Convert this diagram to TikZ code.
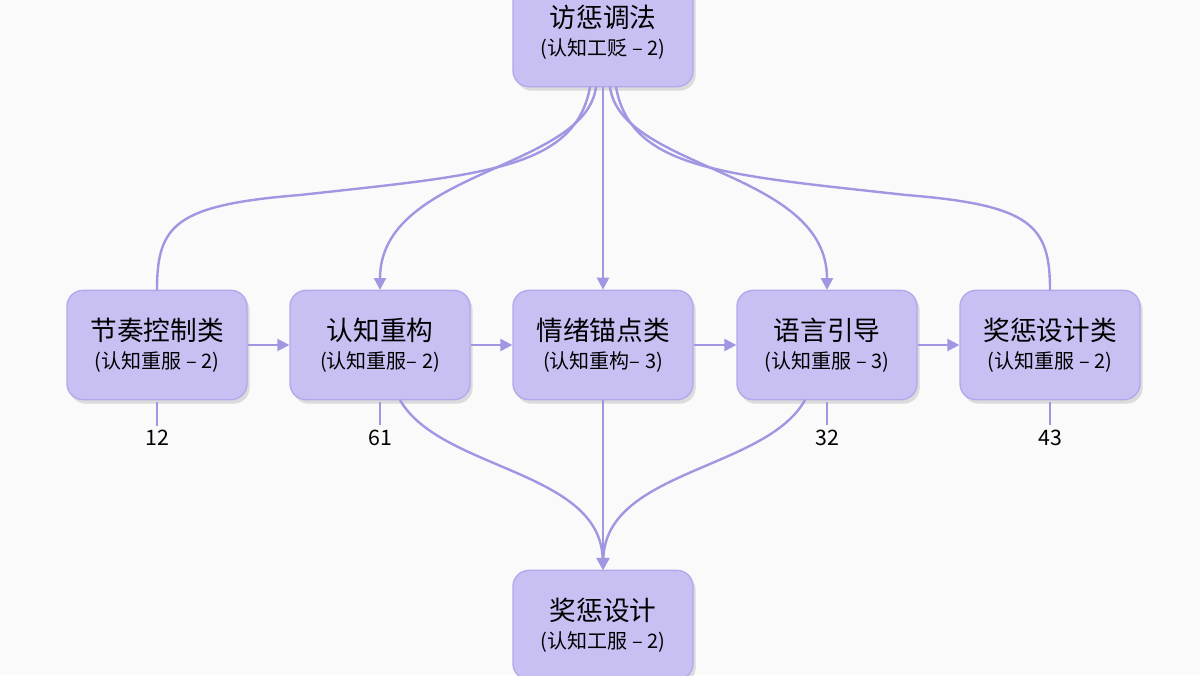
\documentclass[tikz,border=0pt]{standalone}
\usepackage{fontspec}
\setmainfont{Noto Sans CJK SC}[BoldFont={Noto Sans CJK SC Bold}]
\usetikzlibrary{shadows,arrows.meta}
\definecolor{bx}{HTML}{C8BFF3}
\definecolor{bd}{HTML}{B3A8EC}
\definecolor{ln}{HTML}{A097E2}
\newcommand\subtx{\fontsize{15}{18}\selectfont}
\begin{document}
\begin{tikzpicture}[x=0.75pt,y=-0.75pt,
 box/.style={draw=bd,line width=1pt,fill=bx,rounded corners=12pt,minimum width=135pt,minimum height=82pt,align=center,font=\fontsize{20}{24}\selectfont,drop shadow={shadow xshift=2pt,shadow yshift=-3pt,opacity=0.25}},
 ed/.style={draw=ln,line width=1.8pt},
 ar/.style={ed,-{Triangle[length=9pt,width=9pt]}},
 num/.style={font=\fontsize{16}{18}\selectfont}]
\fill[white!96!gray] (0,0) rectangle (1200,675);
\useasboundingbox (0,0) rectangle (1200,675);
\node[box] (t) at (603,32) {访惩调法\\[-3pt]{\subtx(认知工贬 – 2)}};
\node[box] (a) at (157,345) {节奏控制类\\[-3pt]{\subtx(认知重服 – 2)}};
\node[box] (b) at (380,345) {认知重构\\[-3pt]{\subtx(认知重服– 2)}};
\node[box] (c) at (603,345) {情绪锚点类\\[-3pt]{\subtx(认知重构– 3)}};
\node[box] (d) at (827,345) {语言引导\\[-3pt]{\subtx(认知重服 – 3)}};
\node[box] (e) at (1050,345) {奖惩设计类\\[-3pt]{\subtx(认知重服 – 2)}};
\node[box] (f) at (603,625) {奖惩设计\\[-3pt]{\subtx(认知工服 – 2)}};
\coordinate (t1) at (590,87); \coordinate (t2) at (596,87);
\coordinate (t3) at (610,87); \coordinate (t4) at (616,87);
\draw[ed] (t1) .. controls (575,170) and (480,175) .. (300,195) .. controls (175,205) and (157,225) .. (157,290);
\draw[ar] (t2) .. controls (585,170) and (380,170) .. (380,290);
\draw[ar] (603,87) -- (c.north);
\draw[ar] (t3) .. controls (621,170) and (827,170) .. (827,290);
\draw[ed] (t4) .. controls (631,170) and (726,175) .. (906,195) .. controls (1031,205) and (1050,225) .. (1050,290);
\foreach \p/\q in {a/b,b/c,c/d,d/e} \draw[ar] (\p.east) -- (\q.west);
\coordinate (bb) at (400,400); \coordinate (dd) at (805,400);
\draw[ar] (bb) .. controls (440,470) and (600,470) .. (603,570);
\draw[ar] (c.south) -- (603,570);
\draw[ar] (dd) .. controls (766,470) and (606,470) .. (603,570);
\foreach \n/\x/\v in {n1/157/12,n2/380/61,n3/827/32,n4/1050/43}{
 \node[num] (\n) at (\x,438) {\v};
 \draw[ed] (\x,402) -- (\n.north);}
\end{tikzpicture}
\end{document}
